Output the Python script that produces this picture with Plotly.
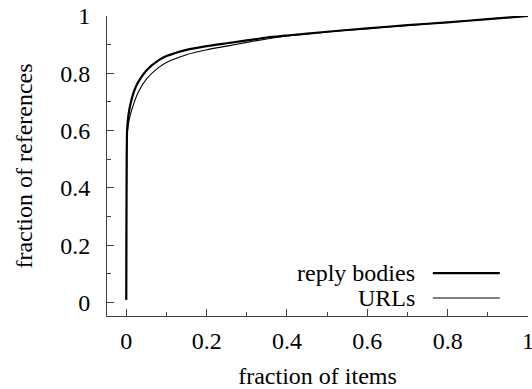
import plotly.graph_objects as go

# fraction of items (x) and fraction of references (y)
frac_items = [0, 0.0005, 0.001, 0.002, 0.005, 0.01, 0.02, 0.03, 0.05, 0.08, 0.1,
              0.15, 0.2, 0.25, 0.3, 0.35, 0.4, 0.5, 0.6, 0.7, 0.8, 0.9, 1.0]
reply_bodies = [0.01, 0.3, 0.5, 0.6, 0.65, 0.69, 0.74, 0.77, 0.81, 0.845, 0.86,
                0.882, 0.895, 0.905, 0.915, 0.925, 0.932, 0.945, 0.957, 0.968, 0.978, 0.989, 1.0]
urls = [0.01, 0.3, 0.5, 0.58, 0.62, 0.655, 0.70, 0.735, 0.78, 0.82, 0.838,
        0.865, 0.882, 0.895, 0.908, 0.92, 0.93, 0.944, 0.956, 0.967, 0.978, 0.989, 1.0]
series_names = ["reply bodies", "URLs"]
tick_vals = [0, 0.2, 0.4, 0.6, 0.8, 1]
tick_text = ["0", "0.2", "0.4", "0.6", "0.8", "1"]

FONT = "Liberation Serif, Times New Roman, serif"
AX = "#404040"
widths = [2.2, 1.1]

fig = go.Figure()
fig.add_trace(go.Scatter(x=frac_items, y=reply_bodies, mode="lines", name=series_names[0],
                         line=dict(color="black", width=widths[0], shape="spline", smoothing=0.6),
                         showlegend=False))
fig.add_trace(go.Scatter(x=frac_items, y=urls, mode="lines", name=series_names[1],
                         line=dict(color="black", width=widths[1], shape="spline", smoothing=0.6),
                         showlegend=False))

axis_common = dict(showgrid=False, zeroline=False, showline=True, linecolor=AX, linewidth=1,
                   ticks="inside", ticklen=7, tickcolor=AX, tickwidth=1, automargin=False,
                   tickvals=tick_vals, ticktext=tick_text, ticklabeloverflow="allow",
                   tickfont=dict(family=FONT, size=24, color="black"),
                   minor=dict(dtick=0.1, tick0=0, ticks="inside", ticklen=4, tickcolor=AX, tickwidth=1))

fig.update_layout(
    width=532, height=389,
    margin=dict(l=107, r=4, t=16, b=73),
    paper_bgcolor="white", plot_bgcolor="white",
    font=dict(family=FONT, size=24, color="black"),
    xaxis=dict(range=[-0.048, 1.0], **axis_common, ticklabelstandoff=3,
               title=dict(text="fraction of items", font=dict(family=FONT, size=24), standoff=20)),
    yaxis=dict(range=[-0.047, 1.0], **axis_common, ticklabelstandoff=11,
               title=dict(text="fraction of references", font=dict(family=FONT, size=24), standoff=20)),
)

# gnuplot-style legend: text right-aligned, line sample to the right
rows_y = [0.143, 0.06]
for name, yy, w in zip(series_names, rows_y, widths):
    fig.add_annotation(xref="paper", yref="paper", x=0.736, y=yy, text=name, showarrow=False,
                       xanchor="right", yanchor="middle", font=dict(family=FONT, size=24, color="black"))
    fig.add_shape(type="line", xref="paper", yref="paper", x0=0.774, x1=0.933, y0=yy, y1=yy,
                  line=dict(color="black", width=w))

fig.write_html("out.html")
